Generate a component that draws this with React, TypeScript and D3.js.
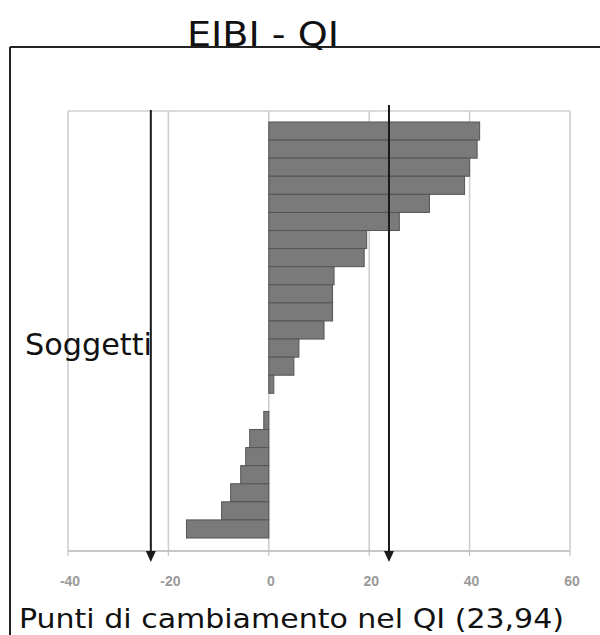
import * as d3 from "d3";

// subjects sorted by change in IQ (top = largest gain)
const subjects = d3.range(1, 24).map((i) => `S${i}`);
const iqChange = [
  42, 41.5, 40, 39, 32, 26, 19.5, 19, 13, 12.7, 12.7, 11, 6, 5, 1, 0, -1, -3.8,
  -4.6, -5.6, -7.6, -9.4, -16.4,
];
const xTicks = [-40, -20, 0, 20, 40, 60];
// reference lines (arrows)
const markers = [-23.5, 23.94];

const title = "EIBI - QI";
const yLabel = "Soggetti";
const xLabel = "Punti di cambiamento nel QI (23,94)";

const W = 600;
const H = 635;
const plot = { left: 68, right: 570, top: 111, bottom: 551 };

export default function App() {
  const x = d3.scaleLinear().domain([-40, 60]).range([plot.left, plot.right]);
  const y = d3.scaleBand<string>().domain(subjects).range([122, 538]).padding(0);

  const font = "'Comic Sans MS', 'DejaVu Sans', sans-serif";

  return (
    <svg
      width={W}
      height={H}
      style={{ position: "absolute", left: 0, top: 0, background: "#fff" }}
    >
      {/* outer frame */}
      <line x1={10} x2={W} y1={47} y2={47} stroke="#222" strokeWidth={2} />
      <line x1={10} x2={10} y1={47} y2={H} stroke="#222" strokeWidth={2} />

      <text x={187} y={46} fontFamily={font} fontSize={34} textLength={152} lengthAdjust="spacingAndGlyphs" fill="#111">
        {title}
      </text>

      {/* grid */}
      {xTicks.map((t) => (
        <line key={t} x1={x(t)} x2={x(t)} y1={plot.top} y2={plot.bottom} stroke="#cfcfcf" strokeWidth={1.6} />
      ))}
      <line x1={plot.left} x2={plot.right} y1={plot.top} y2={plot.top} stroke="#cfcfcf" strokeWidth={1.6} />
      <line x1={plot.left} x2={plot.right} y1={plot.bottom} y2={plot.bottom} stroke="#b5b5b5" strokeWidth={1.6} />
      {xTicks.map((t) => (
        <line key={`tk${t}`} x1={x(t)} x2={x(t)} y1={plot.bottom} y2={plot.bottom + 5} stroke="#c5c5c5" strokeWidth={1.2} />
      ))}

      {/* bars */}
      <g>
        {subjects.map((s, i) => {
          const v = iqChange[i];
          if (v === 0) return null;
          return (
            <rect
              key={s}
              x={Math.min(x(0), x(v))}
              y={y(s)}
              width={Math.abs(x(v) - x(0))}
              height={y.bandwidth()}
              fill="#7a7a7a"
              stroke="#555"
              strokeWidth={1}
            />
          );
        })}
      </g>

      {/* arrows */}
      {markers.map((m, i) => (
        <g key={m}>
          <line x1={x(m)} x2={x(m)} y1={i === 0 ? 110 : 105} y2={556} stroke="#1a1a1a" strokeWidth={2} />
          <path
            d={`M${x(m) - 5},${plot.bottom} L${x(m) + 5},${plot.bottom} L${x(m)},${plot.bottom + 11} Z`}
            fill="#1a1a1a"
          />
        </g>
      ))}

      {/* tick labels */}
      {xTicks.map((t) => (
        <text
          key={`lb${t}`}
          x={x(t) + 2}
          y={586}
          textAnchor="middle"
          fontFamily="'Liberation Sans', Arial, sans-serif"
          fontSize={14}
          fontWeight="bold"
          fill="#9a9a9a"
        >
          {t}
        </text>
      ))}

      <text x={25} y={355} fontFamily={font} fontSize={30} textLength={127} lengthAdjust="spacingAndGlyphs" fill="#111">
        {yLabel}
      </text>
      <text x={19} y={628} fontFamily={font} fontSize={27} textLength={545} lengthAdjust="spacingAndGlyphs" fill="#111">
        {xLabel}
      </text>
    </svg>
  );
}
